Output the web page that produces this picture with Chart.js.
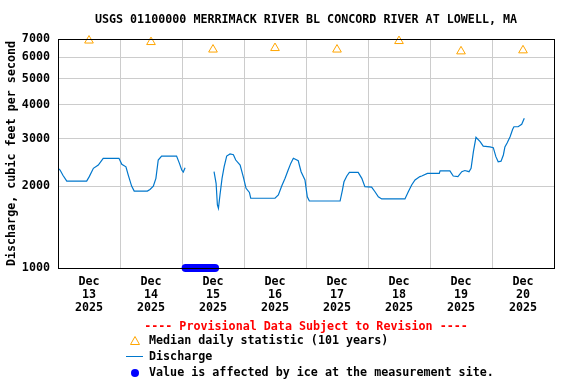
<!DOCTYPE html>
<html>
<head>
<meta charset="utf-8">
<script src="https://cdn.jsdelivr.net/npm/chart.js@4"></script>
<style>
  body { margin: 0; background: #fff; }
  #wrap { width: 576px; height: 384px; }
</style>
</head>
<body>
<div id="wrap"><canvas id="hydro"></canvas></div>
<script>
// hours after Dec 13 2025 00:00
var dischargeHours = [0.1, 0.8, 1.9, 3.4, 11.1, 12.1, 13.7, 15.6, 17.5, 23.6, 24.7, 26.3, 27.2, 28.5, 29.5,
  34.6, 35.6, 36.9, 37.9, 38.8, 40.1, 45.9, 47.0, 47.9, 48.5, 49.2, 49.3,
  60.4, 61.2, 61.7, 62.1, 62.7, 63.5, 64.3, 65.3, 66.6, 67.9, 68.8, 70.5, 71.7, 72.8, 74.1, 74.6,
  84.0, 85.3, 86.6, 87.9, 89.1, 90.1, 91.1, 93.0, 94.1, 95.6, 96.5, 97.3,
  109.2, 110.1, 110.7, 111.8, 112.8, 116.2, 117.6, 118.8, 121.4, 122.7, 124.0, 125.3,
  134.3, 135.6, 136.9, 138.2, 140.1, 140.8, 143.0, 147.6, 147.9, 151.7, 153.0, 154.8, 156.3, 157.5, 159.1, 159.9,
  160.8, 161.8, 163.4, 164.6, 167.2, 168.5, 169.5, 170.4, 171.5, 172.4, 173.0, 173.9, 175.0, 176.0, 176.5, 178.1, 179.5, 180.5];
var dischargeCfs = [2333, 2300, 2200, 2094, 2094, 2174, 2333, 2399, 2540, 2540, 2413, 2363, 2203, 2006, 1923,
  1923, 1950, 2006, 2143, 2503, 2590, 2590, 2433, 2300, 2260, 2343, null,
  2267, 2054, 1708, 1661, 1859, 2143, 2363, 2590, 2635, 2620, 2503, 2399, 2174, 1969, 1900, 1809,
  1809, 1860, 2006, 2143, 2300, 2433, 2540, 2488, 2267, 2112, 1831, 1767,
  1767, 1940, 2081, 2186, 2254, 2254, 2143, 1996, 1990, 1912, 1831, 1798,
  1798, 1912, 2025, 2112, 2174, 2186, 2235, 2235, 2284, 2284, 2186, 2175, 2267, 2290, 2267, 2333,
  2687, 3035, 2926, 2818, 2800, 2780, 2576, 2467, 2480, 2613, 2800, 2900, 3052, 3249, 3322, 3322, 3390, 3568];

var dayLabels = ['13', '14', '15', '16', '17', '18', '19', '20'];
var medianHours = [12, 36, 60, 84, 108, 132, 156, 180];
var medianCfs = [6911, 6823, 6402, 6484, 6402, 6882, 6304, 6358];

var iceHours = [49.4, 60.8];
var iceCfs = [1000, 1000];

var yTicks = [1000, 2000, 3000, 4000, 5000, 6000, 7000];

var FONT = "'DejaVu Sans Mono', monospace";
var FSIZE = 11.7;

function pts(xs, ys) {
  return xs.map(function (x, i) { return { x: x, y: ys[i] }; });
}

var legendPlugin = {
  id: 'usgsLegend',
  afterDraw: function (chart) {
    var ctx = chart.ctx, a = chart.chartArea;
    ctx.save();
    ctx.strokeStyle = '#000';
    ctx.lineWidth = 1;
    ctx.strokeRect(Math.round(a.left) + 0.5, Math.round(a.top) + 0.5, Math.round(a.right - a.left), Math.round(a.bottom - a.top));

    ctx.font = 'bold ' + FSIZE + 'px ' + FONT;
    ctx.textBaseline = 'middle';
    ctx.textAlign = 'center';
    ctx.fillStyle = '#ff0000';
    ctx.fillText('---- Provisional Data Subject to Revision ----', (a.left + a.right) / 2, 327);

    ctx.textAlign = 'left';
    ctx.fillStyle = '#000';
    ctx.fillText('Median daily statistic (101 years)', 149, 341);
    ctx.fillText('Discharge', 149, 357);
    ctx.fillText('Value is affected by ice at the measurement site.', 149, 373);

    // symbols
    ctx.strokeStyle = '#ffa500';
    ctx.beginPath();
    ctx.moveTo(135, 336.5); ctx.lineTo(139.5, 344.5); ctx.lineTo(130.5, 344.5); ctx.closePath();
    ctx.stroke();
    ctx.strokeStyle = '#0077cc';
    ctx.beginPath();
    ctx.moveTo(126, 356.5); ctx.lineTo(143, 356.5);
    ctx.stroke();
    ctx.fillStyle = '#0000ff';
    ctx.beginPath();
    ctx.arc(135, 373, 4, 0, Math.PI * 2);
    ctx.fill();
    ctx.restore();
  }
};

new Chart(document.getElementById('hydro'), {
  type: 'line',
  data: {
    datasets: [{
      label: 'Value is affected by ice at the measurement site.',
      data: pts(iceHours, iceCfs),
      borderColor: '#0000ff',
      borderWidth: 8,
      borderCapStyle: 'round',
      pointRadius: 0,
      clip: false
    }, {
      label: 'Discharge',
      data: pts(dischargeHours, dischargeCfs),
      borderColor: '#0077cc',
      borderWidth: 1.2,
      pointRadius: 0,
      tension: 0,
      spanGaps: false
    }, {
      label: 'Median daily statistic (101 years)',
      data: pts(medianHours, medianCfs),
      showLine: false,
      pointStyle: 'triangle',
      pointRadius: 5,
      borderWidth: 1,
      borderColor: '#ffa500',
      backgroundColor: 'rgba(0,0,0,0)',
      clip: false
    }]
  },
  options: {
    responsive: true,
    maintainAspectRatio: false,
    animation: false,
    layout: { padding: { left: 0, right: 22, top: 0, bottom: 0 } },
    plugins: {
      legend: { display: false },
      tooltip: { enabled: false },
      title: {
        display: true,
        fullSize: false,
        text: 'USGS 01100000 MERRIMACK RIVER BL CONCORD RIVER AT LOWELL, MA',
        color: '#000',
        font: { family: FONT, size: FSIZE, weight: 'bold', lineHeight: 1.2 },
        padding: { top: 12.5, bottom: 12.5 }
      }
    },
    scales: {
      x: {
        type: 'linear',
        min: 0,
        max: 192,
        afterBuildTicks: function (scale) {
          var t = [];
          for (var h = 0; h <= 192; h += 12) t.push({ value: h });
          scale.ticks = t;
        },
        afterFit: function (scale) { scale.height = 116; },
        grid: {
          drawTicks: false,
          color: function (c) {
            return c.tick && c.tick.value % 24 === 0 ? '#cccccc' : 'rgba(0,0,0,0)';
          }
        },
        border: { color: '#000' },
        ticks: {
          autoSkip: false,
          maxRotation: 0,
          padding: 7,
          color: '#000',
          font: { family: FONT, size: FSIZE, weight: 'bold', lineHeight: 1.11 },
          callback: function (v) {
            if (v % 24 !== 12) return '';
            return ['Dec', dayLabels[(v - 12) / 24], '2025'];
          }
        }
      },
      y: {
        type: 'logarithmic',
        min: 1000,
        max: 7000,
        afterBuildTicks: function (scale) {
          scale.ticks = yTicks.map(function (v) { return { value: v }; });
        },
        afterFit: function (scale) { scale.width = 58; },
        grid: { drawTicks: false, color: '#cccccc' },
        border: { color: '#000' },
        ticks: {
          padding: 8,
          color: '#000',
          font: { family: FONT, size: FSIZE, weight: 'bold' },
          callback: function (v) { return String(v); }
        },
        title: {
          display: true,
          text: 'Discharge, cubic feet per second',
          color: '#000',
          font: { family: FONT, size: FSIZE, weight: 'bold' },
          padding: { top: 5, bottom: 0 }
        }
      }
    }
  },
  plugins: [legendPlugin]
});
</script>
</body>
</html>
